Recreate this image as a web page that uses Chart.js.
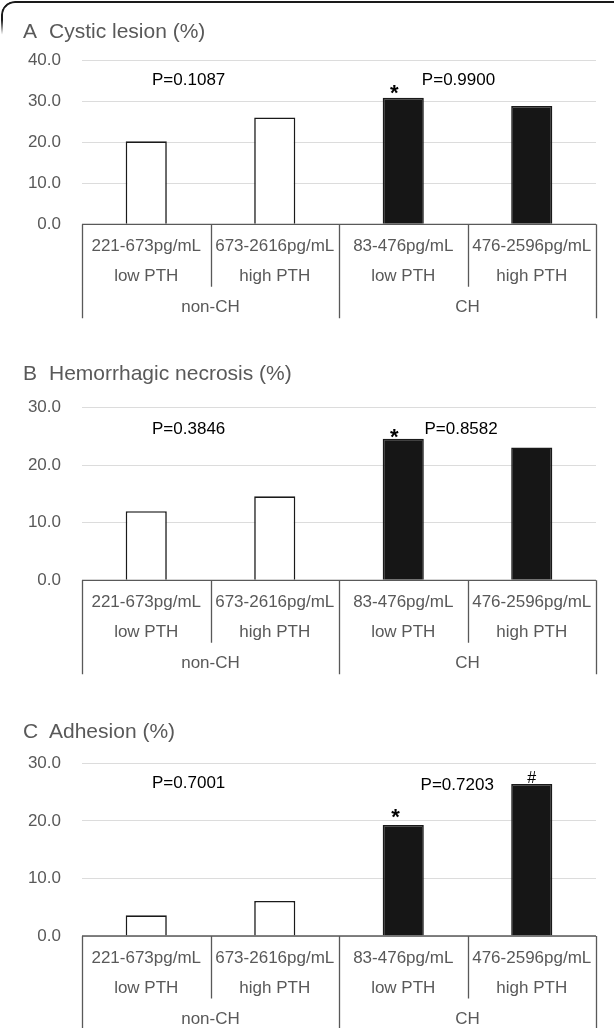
<!DOCTYPE html>
<html>
<head>
<meta charset="utf-8">
<script src="https://cdn.jsdelivr.net/npm/chart.js@4.4.1/dist/chart.umd.min.js"></script>
<style>
  html, body { margin: 0; padding: 0; background: #fff; }
  body { width: 614px; height: 1028px; position: relative; overflow: hidden; font-family: "Liberation Sans", Arial, sans-serif; }
  .panel { position: absolute; left: 0; width: 614px; }
  .frame { position: absolute; left: 1px; top: 1px; width: 640px; height: 40px; border-top: 2px solid #1a1a1a; border-left: 2px solid #1a1a1a; border-top-left-radius: 14px; -webkit-mask-image: linear-gradient(to bottom, #000 45%, transparent 80%); mask-image: linear-gradient(to bottom, #000 45%, transparent 80%); }
</style>
</head>
<body>
<div class="frame"></div>
<div class="panel" style="top:0px;height:340px"><canvas id="cA" width="614" height="340"></canvas></div>
<div class="panel" style="top:340px;height:345px"><canvas id="cB" width="614" height="345"></canvas></div>
<div class="panel" style="top:685px;height:343px"><canvas id="cC" width="614" height="343"></canvas></div>
<script>
// ---- data ----
const rangeLabels = ['221-673pg/mL', '673-2616pg/mL', '83-476pg/mL', '476-2596pg/mL'];
const pthLabels = ['low PTH', 'high PTH', 'low PTH', 'high PTH'];
const groupLabels = ['non-CH', 'CH'];
const cysticLesion = [20.2, 26.0, 30.8, 28.8];
const hemorrhagicNecrosis = [12.0, 14.6, 24.6, 23.1];
const adhesion = [3.6, 6.1, 19.3, 26.4];
const panelLetters = ['A', 'B', 'C'];
const panelTitles = ['Cystic lesion (%)', 'Hemorrhagic necrosis (%)', 'Adhesion (%)'];
const axisMax = [40, 30, 30];
const pNonCH = ['P=0.1087', 'P=0.3846', 'P=0.7001'];
const pCH = ['P=0.9900', 'P=0.8582', 'P=0.7203'];
// annotation anchors (category index, value)
const pNonCHPos = [[0.33, 35.1], [0.33, 26.2], [0.33, 26.5]];
const pCHPos = [[2.43, 35.1], [2.45, 26.2], [2.42, 26.1]];
const starPos = [[1.93, 33.2], [1.93, 25.8], [1.94, 21.5]];
const hashPos = [null, null, [3.0, 27.7]];

const FONT = '"Liberation Sans", Arial, sans-serif';
const GRAY = '#595959';

function makeLayoutPlugin(idx, titleBaseline) {
  return {
    id: 'layoutDraw' + idx,
    afterDraw(chart) {
      const ctx = chart.ctx;
      const xs = chart.scales.x, ys = chart.scales.y;
      const area = chart.chartArea;
      const b = area.bottom;
      ctx.save();
      // title
      ctx.fillStyle = GRAY;
      ctx.textBaseline = 'alphabetic';
      ctx.textAlign = 'left';
      ctx.font = '21px ' + FONT;
      ctx.fillText(panelLetters[idx], 23, titleBaseline);
      ctx.fillText(panelTitles[idx], 49, titleBaseline);
      // axis line
      ctx.strokeStyle = GRAY;
      ctx.lineWidth = 1.3;
      ctx.beginPath();
      ctx.moveTo(area.left, b);
      ctx.lineTo(area.right, b);
      // separators
      for (let i = 0; i <= rangeLabels.length; i++) {
        const x = Math.round(xs.getPixelForValue(i - 0.5)) + 0.5;
        const outer = (i % 2 === 0);
        ctx.moveTo(x, b);
        ctx.lineTo(x, b + (outer ? 94 : 62.5));
      }
      ctx.stroke();
      // category labels
      ctx.font = '17px ' + FONT;
      ctx.textAlign = 'center';
      ctx.textBaseline = 'middle';
      ctx.fillStyle = GRAY;
      for (let i = 0; i < rangeLabels.length; i++) {
        const x = xs.getPixelForValue(i);
        ctx.fillText(rangeLabels[i], x, b + 22);
        ctx.fillText(pthLabels[i], x, b + 52.5);
      }
      for (let g = 0; g < groupLabels.length; g++) {
        const x = xs.getPixelForValue(g * 2 + 0.5);
        ctx.fillText(groupLabels[g], x, b + 83);
      }
      // p-values
      ctx.fillStyle = '#000';
      ctx.fillText(pNonCH[idx], xs.getPixelForValue(pNonCHPos[idx][0]), ys.getPixelForValue(pNonCHPos[idx][1]));
      ctx.fillText(pCH[idx], xs.getPixelForValue(pCHPos[idx][0]), ys.getPixelForValue(pCHPos[idx][1]));
      // star
      ctx.textBaseline = 'alphabetic';
      ctx.font = 'bold 22px ' + FONT;
      ctx.fillText('*', xs.getPixelForValue(starPos[idx][0]), ys.getPixelForValue(starPos[idx][1]) + 12);
      if (hashPos[idx]) {
        ctx.font = '16px ' + FONT;
        ctx.fillText('#', xs.getPixelForValue(hashPos[idx][0]), ys.getPixelForValue(hashPos[idx][1]) + 6);
      }
      ctx.restore();
    }
  };
}

function makeChart(id, idx, values, padTop, padBottom, titleBaseline) {
  new Chart(document.getElementById(id), {
    type: 'bar',
    data: {
      labels: rangeLabels,
      datasets: [{
        data: values,
        backgroundColor: ['#ffffff', '#ffffff', '#161616', '#161616'],
        borderColor: '#1a1a1a',
        borderWidth: 1.6,
        barPercentage: 0.32,
        categoryPercentage: 1.0
      }]
    },
    options: {
      responsive: false,
      animation: false,
      devicePixelRatio: 1,
      layout: { padding: { left: 0, right: 18, top: padTop, bottom: padBottom } },
      plugins: { legend: { display: false }, tooltip: { enabled: false }, title: { display: false } },
      scales: {
        x: { display: false, offset: true, grid: { display: false } },
        y: {
          min: 0, max: axisMax[idx],
          afterFit(scale) { scale.width = 82; },
          border: { display: false },
          grid: { color: '#dcdcdc', lineWidth: 1, drawTicks: false },
          ticks: {
            stepSize: 10, padding: 21, color: GRAY,
            font: { family: FONT, size: 17 },
            callback: v => Number(v).toFixed(1)
          }
        }
      }
    },
    plugins: [makeLayoutPlugin(idx, titleBaseline)]
  });
}

makeChart('cA', 0, cysticLesion, 60, 340 - 224.3, 38);
makeChart('cB', 1, hemorrhagicNecrosis, 67.7, 345 - 240.3, 40);
makeChart('cC', 2, adhesion, 78.3, 343 - 251, 53);
</script>
</body>
</html>
